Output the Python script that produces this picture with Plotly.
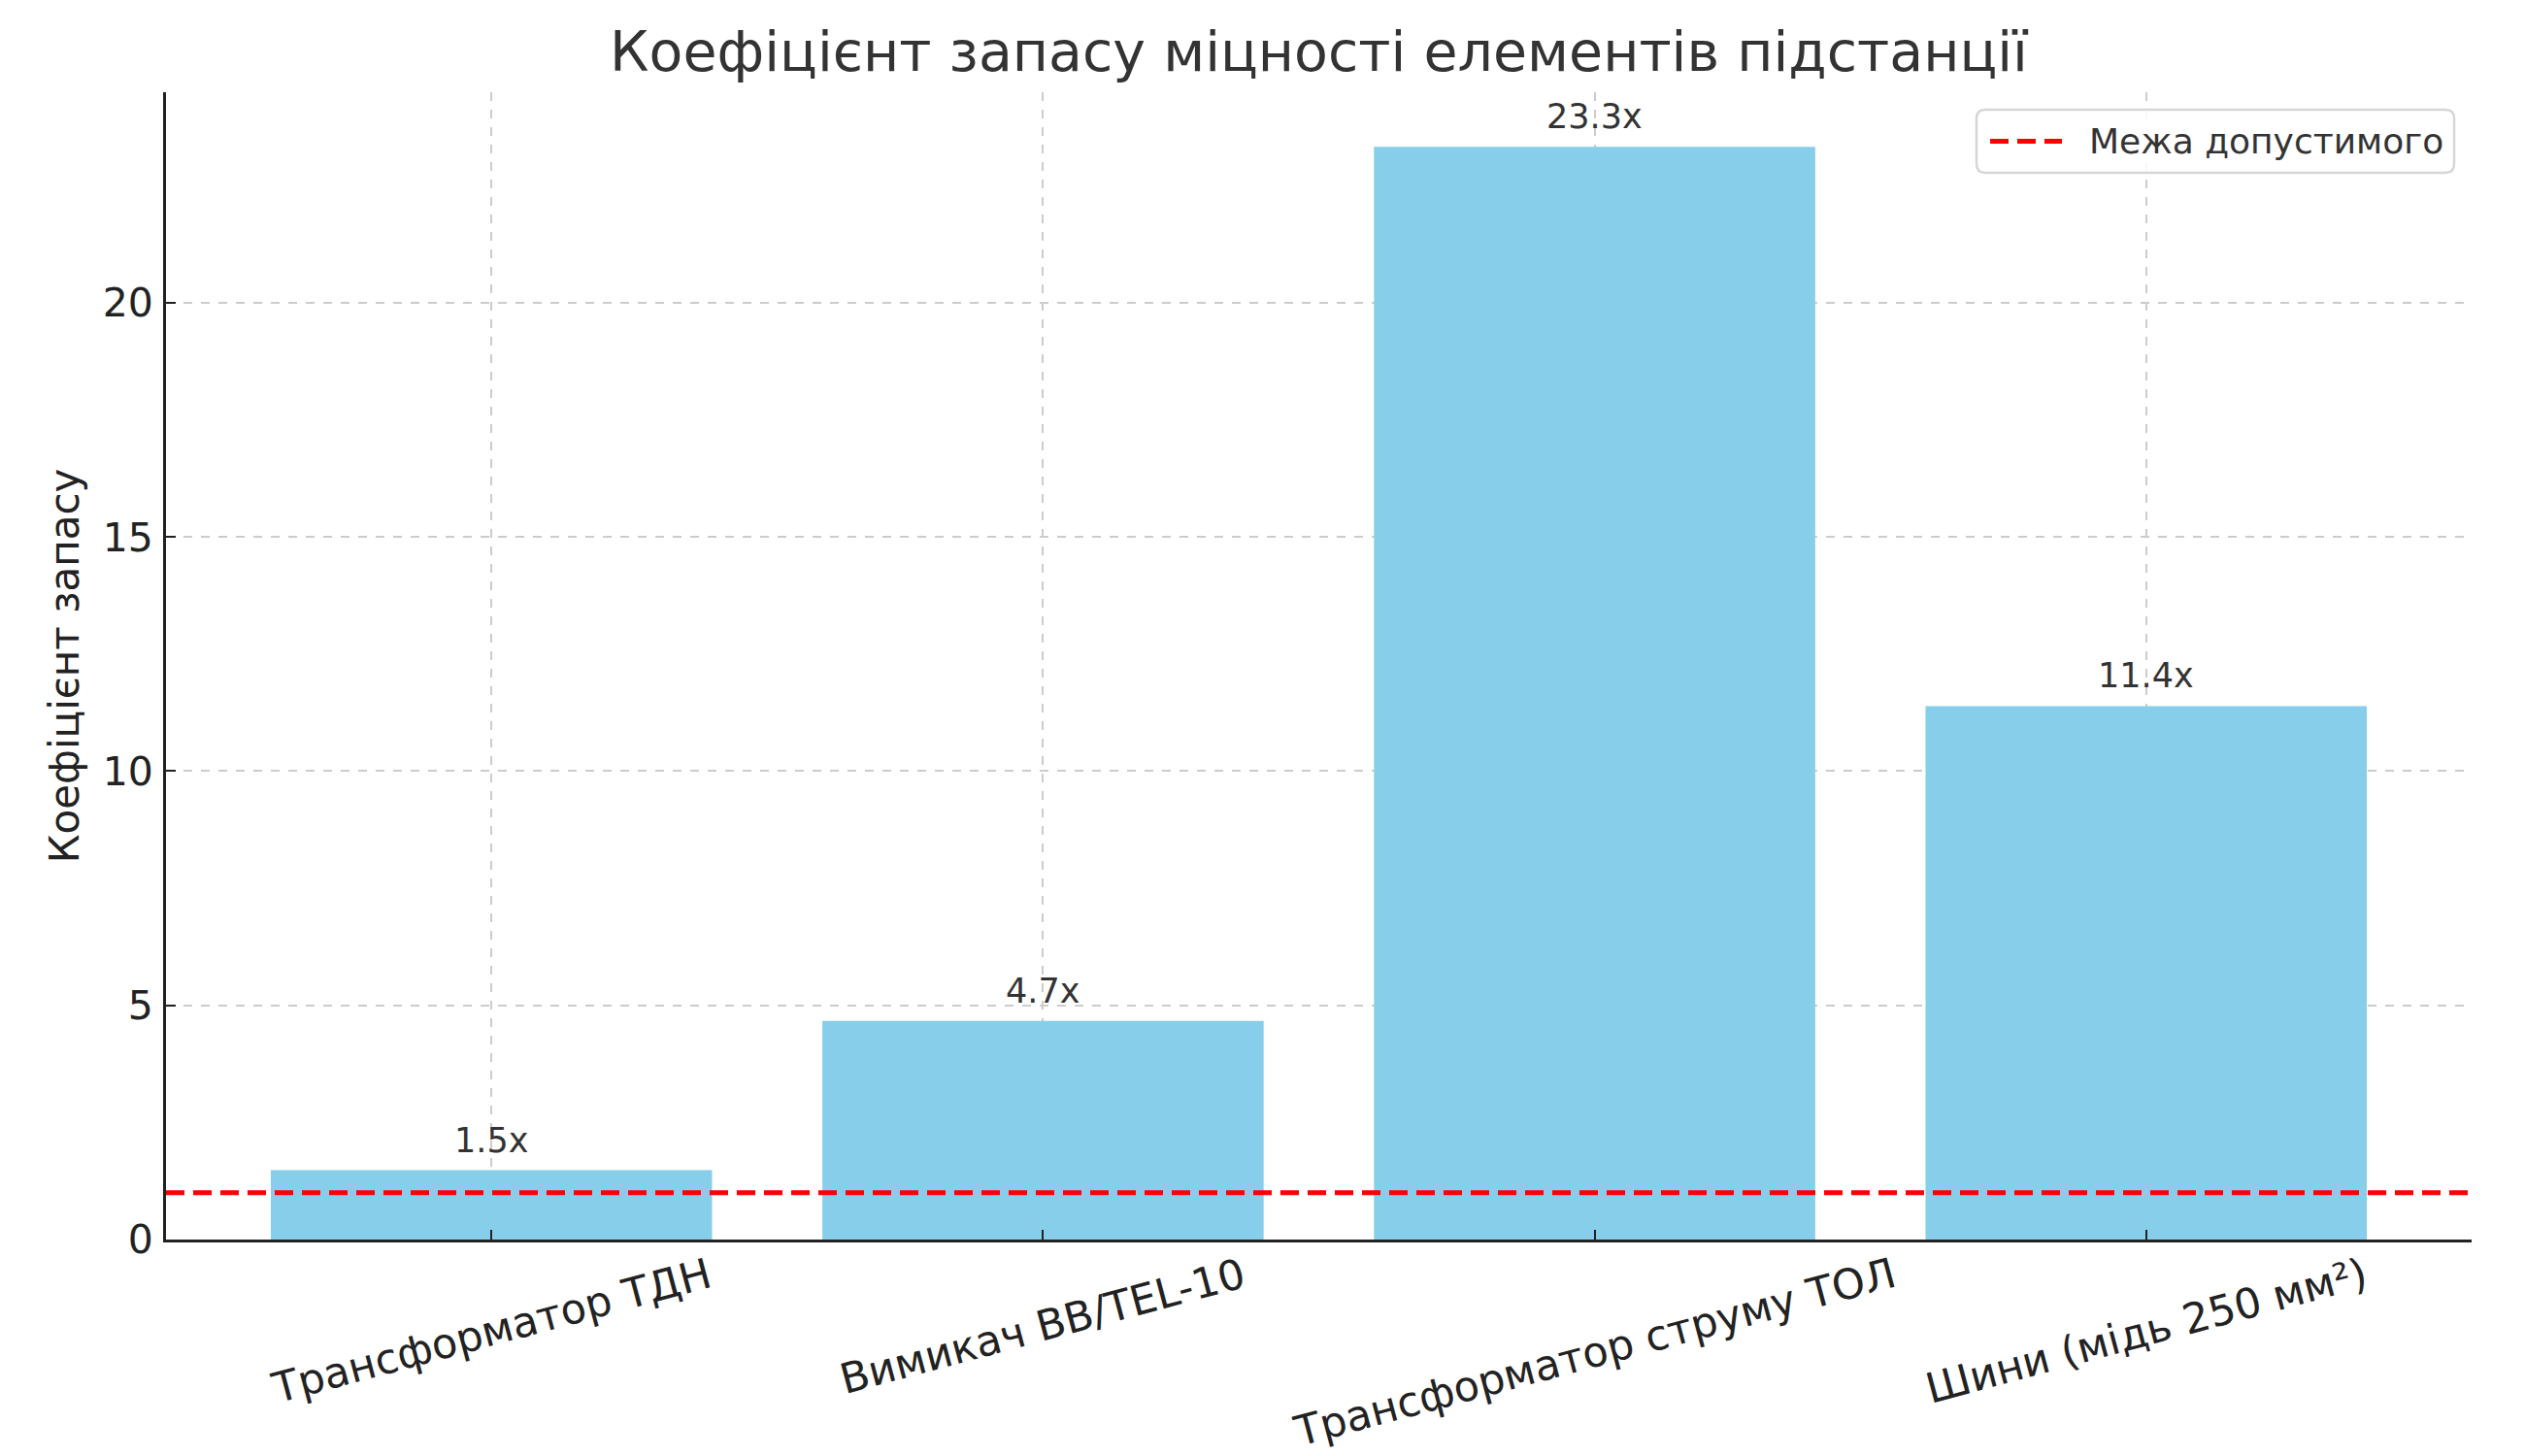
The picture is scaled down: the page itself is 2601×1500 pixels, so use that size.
import plotly.graph_objects as go

categories = ["Трансформатор ТДН", "Вимикач ВВ/TEL-10", "Трансформатор струму ТОЛ", "Шини (мідь 250 мм²)"]
values = [1.48, 4.67, 23.33, 11.39]
labels = [f"{v:.1f}x" for v in values]
threshold = 1.0
threshold_name = "Межа допустимого"
y_ticks = [0, 5, 10, 15, 20]

title = "Коефіцієнт запасу міцності елементів підстанції"
y_title = "Коефіцієнт запасу"

FONT = "DejaVu Sans"
W, H = 2601, 1500
L, R, T, B = 171, 2546, 95, 1277   # plot area in pixels
PW, PH = R - L, B - T


def px(x):
    return (x - L) / PW


def py(y):
    return (B - y) / PH


x_idx = list(range(len(categories)))
x_range = [-0.59, len(categories) - 1 + 0.59]
y_range = [0, max(values) * 1.05]

RED_DASH = dict(color="red", width=5, dash="19px,9px")

fig = go.Figure()
fig.add_trace(go.Bar(
    x=x_idx, y=values, width=0.8,
    marker=dict(color="#87CEEB", line=dict(width=0)),
    showlegend=False, hoverinfo="skip",
))
fig.add_trace(go.Scatter(
    x=x_range, y=[threshold, threshold], mode="lines",
    line=RED_DASH, name=threshold_name, showlegend=False, hoverinfo="skip",
))

# value labels above bars
for xi, v, t in zip(x_idx, values, labels):
    fig.add_annotation(x=xi, y=v, text=t, showarrow=False, yanchor="bottom",
                       yshift=9, font=dict(family=FONT, size=35, color="#333333"))

# x tick labels centred on ticks, rotated 15 degrees
for xi, c in zip(x_idx, categories):
    fig.add_annotation(x=xi, xref="x", y=0, yref="paper", text=c, showarrow=False,
                       textangle=-15, xanchor="center", yanchor="top", yshift=-7,
                       font=dict(family=FONT, size=43, color="#222222"))

# legend box (upper right)
lx0, lx1, ly0, ly1, rad = 2036, 2528, 113, 178, 9
path = (f"M {px(lx0 + rad)},{py(ly0)} L {px(lx1 - rad)},{py(ly0)} "
        f"Q {px(lx1)},{py(ly0)} {px(lx1)},{py(ly0 + rad)} "
        f"L {px(lx1)},{py(ly1 - rad)} Q {px(lx1)},{py(ly1)} {px(lx1 - rad)},{py(ly1)} "
        f"L {px(lx0 + rad)},{py(ly1)} Q {px(lx0)},{py(ly1)} {px(lx0)},{py(ly1 - rad)} "
        f"L {px(lx0)},{py(ly0 + rad)} Q {px(lx0)},{py(ly0)} {px(lx0 + rad)},{py(ly0)} Z")
fig.add_shape(type="path", path=path, xref="paper", yref="paper",
              fillcolor="rgba(255,255,255,0.85)", line=dict(color="#d6d6d6", width=2.5),
              layer="above")
ly_mid = (ly0 + ly1) / 2
fig.add_shape(type="line", xref="paper", yref="paper",
              x0=px(2050), x1=px(2124), y0=py(ly_mid), y1=py(ly_mid),
              line=RED_DASH, layer="above")
fig.add_annotation(x=px(2150), y=py(ly_mid), xref="paper", yref="paper",
                   text=threshold_name, showarrow=False, xanchor="left", yanchor="middle",
                   font=dict(family=FONT, size=36, color="#333333"))

fig.update_layout(
    width=W, height=H,
    margin=dict(l=L, r=W - R, t=T, b=H - B, autoexpand=False),
    paper_bgcolor="white", plot_bgcolor="white",
    title=dict(text=title, xref="paper", x=0.5, xanchor="center", y=1 - 53 / H, yanchor="middle",
               font=dict(family=FONT, size=57, color="#333333")),
    font=dict(family=FONT, color="#222222"),
    showlegend=False,
    bargap=0.2,
)
fig.update_xaxes(
    range=x_range, tickmode="array", tickvals=x_idx, ticktext=[""] * len(x_idx),
    automargin=False,
    showline=True, linecolor="#222222", linewidth=3, mirror=False,
    ticks="inside", ticklen=10, tickwidth=2, tickcolor="#222222",
    showgrid=True, gridcolor="#cccccc", gridwidth=1.5, griddash="dash",
    zeroline=False,
)
fig.update_yaxes(
    range=y_range, tickmode="array", tickvals=y_ticks, automargin=False,
    tickfont=dict(family=FONT, size=41, color="#222222"),
    ticklabelstandoff=2,
    showline=True, linecolor="#222222", linewidth=3,
    ticks="inside", ticklen=10, tickwidth=2, tickcolor="#222222",
    showgrid=True, gridcolor="#cccccc", gridwidth=1.5, griddash="dash",
    zeroline=False,
    title=dict(text=y_title, font=dict(family=FONT, size=42, color="#222222"), standoff=11),
)

fig.write_html("out.html", config={"displayModeBar": False},
               post_script="document.body.style.margin='0px';")
